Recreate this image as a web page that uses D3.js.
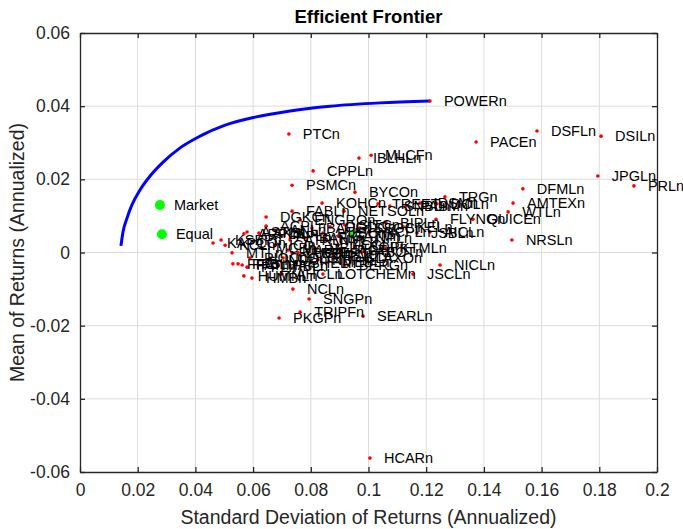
<!DOCTYPE html>
<html>
<head>
<meta charset="utf-8">
<script src="https://cdn.jsdelivr.net/npm/d3@7"></script>
<style>
body { margin: 0; background: #fff; }
text { font-family: "Liberation Sans", Arial, sans-serif; }
</style>
</head>
<body>
<svg id="chart" width="683" height="529"></svg>
<script>
/* global d3 */

// stock tickers with annualized std dev / mean return
const names = [
    'POWERn', 'PTCn', 'PACEn', 'DSFLn', 'DSILn', 'IBLHLn', 'MLCFn', 'CPPLn', 'PSMCn', 'JPGLn',
    'PRLn', 'DFMLn', 'BYCOn', 'TRGn', 'AMTEXn', 'WTLn', 'QUICEn', 'FLYNGn', 'NRSLn', 'NICLn',
    'JSCLn', 'SEARLn', 'PKGPn', 'TRIPFn', 'SNGPn', 'NCLn', 'LOTCHEMn', 'BERGn', 'KTMLn', 'HCARn',
    'KOHCn', 'NETSOLn', 'TREETn', 'PASMn', 'IDSMn', 'DOLn', 'BIPLn', 'KELn', 'JSBLn', 'AICLn',
    'SNBLn', 'OGDCn', 'HUBCn', 'BOPn', 'FABLn', 'DGKCn', 'ENGROn', 'ACPLn',
    'KAPCOn', 'KSBPn', 'KCLn', 'MTLn', 'FFCn', 'FFBLn', 'FATIMAn', 'PPLn', 'HUMNLn', 'HMBn',
    'ARPLn', 'ASTLn', 'AKBLn', 'PIOCn', 'MARIn', 'LUCKn', 'PSOn', 'EFERTn', 'UBLn', 'SHELn',
    'AHCLn', 'ANLn', 'APLn', 'ATRLn', 'BAFLn', 'BAHLn', 'NMLn', 'GATMn', 'SITCn', 'SSGCn',
    'NPLn', 'NCPLn', 'PAKTn', 'PICTn', 'GLAXOn', 'ABOTn', 'ICIn', 'COLGn', 'INDUn', 'MCBn',
    'HBLn', 'NBPn', 'MEBLn', 'FCCLn'
];
const risk = [
    0.1213, 0.0724, 0.1373, 0.1584, 0.1806, 0.0967, 0.1009, 0.0808, 0.0735, 0.1795,
    0.1920, 0.1535, 0.0953, 0.1265, 0.1501, 0.1484, 0.1362, 0.1234, 0.1497, 0.1248,
    0.1154, 0.0981, 0.0690, 0.0763, 0.0794, 0.0738, 0.0842, 0.0918, 0.1061, 0.1005,
    0.0839, 0.0915, 0.1033, 0.1130, 0.1178, 0.1237, 0.1061, 0.1120, 0.1168, 0.1213,
    0.1074, 0.0867, 0.0842, 0.0953, 0.0735, 0.0645, 0.0763, 0.0645,
    0.0461, 0.0489, 0.0503, 0.0527, 0.0530, 0.0548, 0.0562, 0.0579, 0.0568, 0.0596,
    0.0568, 0.0579, 0.0620, 0.0589, 0.0721, 0.0735, 0.0756, 0.0790, 0.0815, 0.0749,
    0.0700, 0.0679, 0.0700, 0.0728, 0.0780, 0.0804, 0.0849, 0.0894, 0.0918, 0.0970,
    0.0977, 0.1005, 0.0877, 0.0901, 0.0936, 0.0977, 0.0676, 0.0704, 0.0659, 0.0631,
    0.0686, 0.0825, 0.0860, 0.0894
];
const ret = [
    0.0414, 0.0324, 0.0302, 0.0332, 0.0318, 0.0258, 0.0266, 0.0223, 0.0184, 0.0209,
    0.0182, 0.0174, 0.0165, 0.0152, 0.0135, 0.0111, 0.0091, 0.0091, 0.0034, -0.0034,
    -0.0059, -0.0174, -0.0179, -0.0163, -0.0127, -0.0100, -0.0059, -0.0034, 0.0012, -0.0562,
    0.0135, 0.0113, 0.0133, 0.0127, 0.0135, 0.0133, 0.0081, 0.0070, 0.0053, 0.0056,
    0.0127, 0.0070, 0.0053, 0.0015, 0.0113, 0.0097, 0.0089, 0.0072,
    0.0026, 0.0034, 0.0020, -0.0001, -0.0031, -0.0031, -0.0034, -0.0040, -0.0064, -0.0070,
    0.0051, 0.0056, 0.0053, -0.0015, 0.0007, -0.0001, -0.0001, -0.0001, 0.0012, -0.0029,
    -0.0059, 0.0061, 0.0045, 0.0034, 0.0040, 0.0067, 0.0034, 0.0045, 0.0075, 0.0067,
    0.0040, 0.0056, -0.0010, 0.0007, -0.0015, 0.0001, 0.0020, -0.0015, -0.0020, 0.0012,
    -0.0037, -0.0020, -0.0026, 0.0020
];

// efficient frontier
const frontierRisk = [0.0142, 0.0149, 0.0163, 0.0180, 0.0208, 0.0243, 0.0288, 0.0347, 0.0416, 0.0503, 0.0607, 0.0728, 0.0867, 0.1040, 0.1213];
const frontierRet = [0.0018, 0.0056, 0.0094, 0.0130, 0.0171, 0.0209, 0.0247, 0.0286, 0.0318, 0.0348, 0.0370, 0.0387, 0.0400, 0.0409, 0.0414];

// benchmark portfolios
const benchNames = ['Market', 'Equal'];
const benchRisk = [0.0277, 0.0284];
const benchRet = [0.0130, 0.0050];
const tangentRisk = [0.0943];
const tangentRet = [0.0053];

const xTicks = [0, 0.02, 0.04, 0.06, 0.08, 0.1, 0.12, 0.14, 0.16, 0.18, 0.2];
const yTicks = [-0.06, -0.04, -0.02, 0, 0.02, 0.04, 0.06];

const margin = {left: 80, top: 33, right: 26, bottom: 57};
const svg = d3.select('#chart');
const W = +svg.attr('width') - margin.left - margin.right;
const H = +svg.attr('height') - margin.top - margin.bottom;

const x = d3.scaleLinear().domain([0, 0.2]).range([0, W]);
const y = d3.scaleLinear().domain([-0.06, 0.06]).range([H, 0]);

const g = svg.append('g').attr('transform', `translate(${margin.left},${margin.top})`);

// grid
g.append('g').selectAll('line').data(xTicks.slice(1, -1)).join('line')
    .attr('x1', d => x(d)).attr('x2', d => x(d))
    .attr('y1', 0).attr('y2', H)
    .attr('stroke', '#dcdcdc').attr('stroke-width', 1);
g.append('g').selectAll('line').data(yTicks.slice(1, -1)).join('line')
    .attr('y1', d => y(d)).attr('y2', d => y(d))
    .attr('x1', 0).attr('x2', W)
    .attr('stroke', '#dcdcdc').attr('stroke-width', 1);

// axes, inward ticks on all sides
const fmt = d => String(d);
const styleAxis = function(sel, labels) {
    sel.select('.domain').attr('stroke', '#262626').attr('stroke-width', 1.3);
    sel.selectAll('.tick line').attr('stroke', '#262626').attr('stroke-width', 1.3);
    sel.selectAll('.tick text').attr('fill', '#262626')
        .style('font-size', '17.5px').style('display', labels ? null : 'none');
};
g.append('g').attr('transform', `translate(0,${H})`)
    .call(d3.axisBottom(x).tickValues(xTicks).tickFormat(fmt).tickSizeInner(-5).tickSizeOuter(0).tickPadding(12))
    .call(s => styleAxis(s, true));
g.append('g')
    .call(d3.axisTop(x).tickValues(xTicks).tickSizeInner(-5).tickSizeOuter(0))
    .call(s => styleAxis(s, false));
g.append('g')
    .call(d3.axisLeft(y).tickValues(yTicks).tickFormat(fmt).tickSizeInner(-5).tickSizeOuter(0).tickPadding(10))
    .call(s => styleAxis(s, true));
g.append('g').attr('transform', `translate(${W},0)`)
    .call(d3.axisRight(y).tickValues(yTicks).tickSizeInner(-5).tickSizeOuter(0))
    .call(s => styleAxis(s, false));

// frontier curve
const line = d3.line().x(d => x(d[0])).y(d => y(d[1])).curve(d3.curveMonotoneX);
g.append('path')
    .datum(d3.zip(frontierRisk, frontierRet))
    .attr('d', line)
    .attr('fill', 'none').attr('stroke', '#0000ff').attr('stroke-width', 3);

// assets
const assets = d3.zip(names, risk, ret);
g.append('g').selectAll('circle').data(assets).join('circle')
    .attr('cx', d => x(d[1])).attr('cy', d => y(d[2])).attr('r', 1.8)
    .attr('fill', '#ff0000');

g.append('g').selectAll('circle').data(d3.zip(tangentRisk, tangentRet)).join('circle')
    .attr('cx', d => x(d[0])).attr('cy', d => y(d[1])).attr('r', 3)
    .attr('fill', '#00ff00');

const bench = d3.zip(benchNames, benchRisk, benchRet);
g.append('g').selectAll('circle').data(bench).join('circle')
    .attr('cx', d => x(d[1])).attr('cy', d => y(d[2])).attr('r', 5)
    .attr('fill', '#00ff00');

g.append('g').selectAll('text').data(assets.concat(bench)).join('text')
    .attr('x', d => x(d[1]) + 14).attr('y', d => y(d[2]))
    .attr('dy', '0.35em')
    .style('font-size', '14.5px').attr('fill', '#000')
    .text(d => d[0]);

// titles
svg.append('text')
    .attr('x', margin.left + W / 2).attr('y', 23)
    .attr('text-anchor', 'middle')
    .style('font-size', '18.5px').style('font-weight', 'bold').attr('fill', '#000')
    .text('Efficient Frontier');
svg.append('text')
    .attr('x', margin.left + W / 2).attr('y', 524)
    .attr('text-anchor', 'middle')
    .style('font-size', '19.5px').attr('fill', '#262626')
    .text('Standard Deviation of Returns (Annualized)');
svg.append('text')
    .attr('transform', `translate(24,${margin.top + H / 2}) rotate(-90)`)
    .attr('text-anchor', 'middle')
    .style('font-size', '19.5px').attr('fill', '#262626')
    .text('Mean of Returns (Annualized)');
</script>
</body>
</html>
